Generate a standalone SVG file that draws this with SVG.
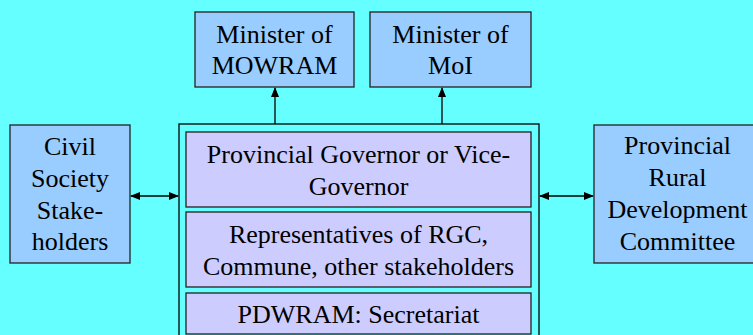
<svg xmlns="http://www.w3.org/2000/svg" width="753" height="335" viewBox="0 0 753 335">
<style>
.n{fill:#99CCFF;stroke:#222;stroke-width:1.3}
.i{fill:#CCCCFF;stroke:#222;stroke-width:1.3}
.o{fill:none;stroke:#000;stroke-width:1.3}
.c{stroke:#000;stroke-width:1.3;fill:none}
svg text, g text, text.t{font-family:'Liberation Serif',serif !important;font-size:26px !important;fill:#000;text-anchor:middle}
</style>
<defs>
<marker id="ah" markerWidth="10" markerHeight="8" refX="9" refY="4" orient="auto-start-reverse" markerUnits="userSpaceOnUse">
<path d="M0,0 L10,4 L0,8 Z" fill="#000"/>
</marker>
</defs>
<rect width="753" height="335" fill="#66FFFF"/>
<g id="mowram"><rect class="n" x="195" y="12" width="159" height="75"/><text class="t" style="font-family:'Liberation Serif',serif" x="274.5" y="43">Minister of</text><text class="t" style="font-family:'Liberation Serif',serif" x="274.5" y="74">MOWRAM</text></g>
<g id="moi"><rect class="n" x="370" y="12" width="161" height="75"/><text class="t" style="font-family:'Liberation Serif',serif" x="450.5" y="43">Minister of</text><text class="t" style="font-family:'Liberation Serif',serif" x="450.5" y="74">MoI</text></g>
<g id="civil"><rect class="n" x="10" y="125" width="120" height="138"/><text class="t" style="font-family:'Liberation Serif',serif" x="70" y="155">Civil</text><text class="t" style="font-family:'Liberation Serif',serif" x="70" y="187">Society</text><text class="t" style="font-family:'Liberation Serif',serif" x="70" y="219">Stake-</text><text class="t" style="font-family:'Liberation Serif',serif" x="70" y="250">holders</text></g>
<g id="prdc"><rect class="n" x="594" y="125" width="170" height="138"/><text class="t" style="font-family:'Liberation Serif',serif" x="677.5" y="154">Provincial</text><text class="t" style="font-family:'Liberation Serif',serif" x="677.5" y="186">Rural</text><text class="t" style="font-family:'Liberation Serif',serif" x="677.5" y="218">Development</text><text class="t" style="font-family:'Liberation Serif',serif" x="677.5" y="250">Committee</text></g>
<g id="committee"><rect class="o" x="179" y="124" width="360" height="220"/></g>
<g id="governor"><rect class="i" x="186" y="132" width="345" height="75"/><text class="t" style="font-family:'Liberation Serif',serif" x="358.5" y="163">Provincial Governor or Vice-</text><text class="t" style="font-family:'Liberation Serif',serif" x="358.5" y="195">Governor</text></g>
<g id="representatives"><rect class="i" x="186" y="212" width="345" height="75"/><text class="t" style="font-family:'Liberation Serif',serif" x="358.5" y="243">Representatives of RGC,</text><text class="t" style="font-family:'Liberation Serif',serif" x="358.5" y="275">Commune, other stakeholders</text></g>
<g id="pdwram"><rect class="i" x="186" y="293" width="345" height="41"/><text class="t" style="font-family:'Liberation Serif',serif" x="358.5" y="323">PDWRAM: Secretariat</text></g>
<g id="connectors">
<line class="c" x1="275" y1="124" x2="275" y2="88" marker-end="url(#ah)"/>
<line class="c" x1="442" y1="124" x2="442" y2="88" marker-end="url(#ah)"/>
<line class="c" x1="131" y1="196" x2="178" y2="196" marker-start="url(#ah)" marker-end="url(#ah)"/>
<line class="c" x1="540" y1="196" x2="593" y2="196" marker-start="url(#ah)" marker-end="url(#ah)"/>
</g>
</svg>
